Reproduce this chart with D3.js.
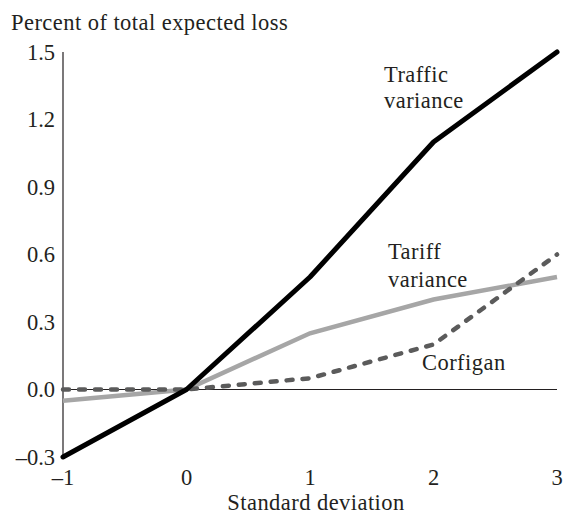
<!DOCTYPE html>
<html><head><meta charset="utf-8">
<script src="https://cdn.jsdelivr.net/npm/d3@7"></script>
<style>
html,body{margin:0;padding:0;background:#fff;}
svg text{font-family:"Liberation Serif","Times New Roman",serif;fill:#231f20;}
</style></head>
<body>
<svg id="chart" width="564" height="516"></svg>
<script>
const xValues = [-1, 0, 1, 2, 3];
const traffic = [-0.3, 0, 0.5, 1.1, 1.5];
const tariff = [-0.05, 0, 0.25, 0.4, 0.5];
const corfigan = [0, 0, 0.05, 0.2, 0.6];
const yTicks = [-0.3, 0, 0.3, 0.6, 0.9, 1.2, 1.5];
const xTicks = [-1, 0, 1, 2, 3];

const svg = d3.select("#chart");
const x = d3.scaleLinear().domain([-1, 3]).range([63, 557]);
const y = d3.scaleLinear().domain([-0.3, 1.5]).range([457, 52]);
const fs = 22.5;
const ls = 0.45;

// y axis line
svg.append("line").attr("x1", x(-1)).attr("x2", x(-1)).attr("y1", y(1.5)).attr("y2", y(-0.3))
  .attr("stroke", "#231f20").attr("stroke-width", 1.2);
// zero line
svg.append("line").attr("x1", x(-1)).attr("x2", x(3)).attr("y1", y(0)).attr("y2", y(0))
  .attr("stroke", "#231f20").attr("stroke-width", 1.2);

// y tick labels
svg.selectAll(".yt").data(yTicks).enter().append("text")
  .attr("x", 55).attr("y", d => y(d)).attr("dy", "0.35em")
  .attr("text-anchor", "end").attr("font-size", fs)
  .text(d => (d < 0 ? "\u2013" : "") + d3.format(".1f")(Math.abs(d)));

// x tick labels
svg.selectAll(".xt").data(xTicks).enter().append("text")
  .attr("x", d => x(d)).attr("y", 485)
  .attr("text-anchor", "middle").attr("font-size", fs)
  .text(d => (d < 0 ? "\u2013" : "") + Math.abs(d));

// titles
svg.append("text").attr("x", 11).attr("y", 30).attr("font-size", fs).attr("letter-spacing", ls)
  .text("Percent of total expected loss");
svg.append("text").attr("x", 316).attr("y", 510).attr("text-anchor", "middle").attr("font-size", fs)
  .attr("letter-spacing", ls)
  .text("Standard deviation");

const line = d3.line().x((d, i) => x(xValues[i])).y(d => y(d));

svg.append("path").datum(tariff).attr("d", line).attr("fill", "none")
  .attr("stroke", "#a6a6a6").attr("stroke-width", 4.5);
svg.append("path").datum(corfigan).attr("d", line).attr("fill", "none")
  .attr("stroke", "#5b5b5b").attr("stroke-width", 4.5)
  .attr("stroke-dasharray", "6,10").attr("stroke-linecap", "round");
svg.append("path").datum(traffic).attr("d", line).attr("fill", "none")
  .attr("stroke", "#000").attr("stroke-width", 5).attr("stroke-linecap", "round")
  .attr("stroke-linejoin", "round");

// series labels
function label(lines, lx, ly, lh) {
  const t = svg.append("text").attr("x", lx).attr("y", ly).attr("font-size", fs).attr("letter-spacing", ls);
  lines.forEach((s, i) => t.append("tspan").attr("x", lx).attr("dy", i === 0 ? 0 : lh).text(s));
}
label(["Traffic", "variance"], 384, 82, 26);
label(["Tariff", "variance"], 388, 259, 28);
label(["Corfigan"], 422, 370, 0);
</script>
</body></html>
